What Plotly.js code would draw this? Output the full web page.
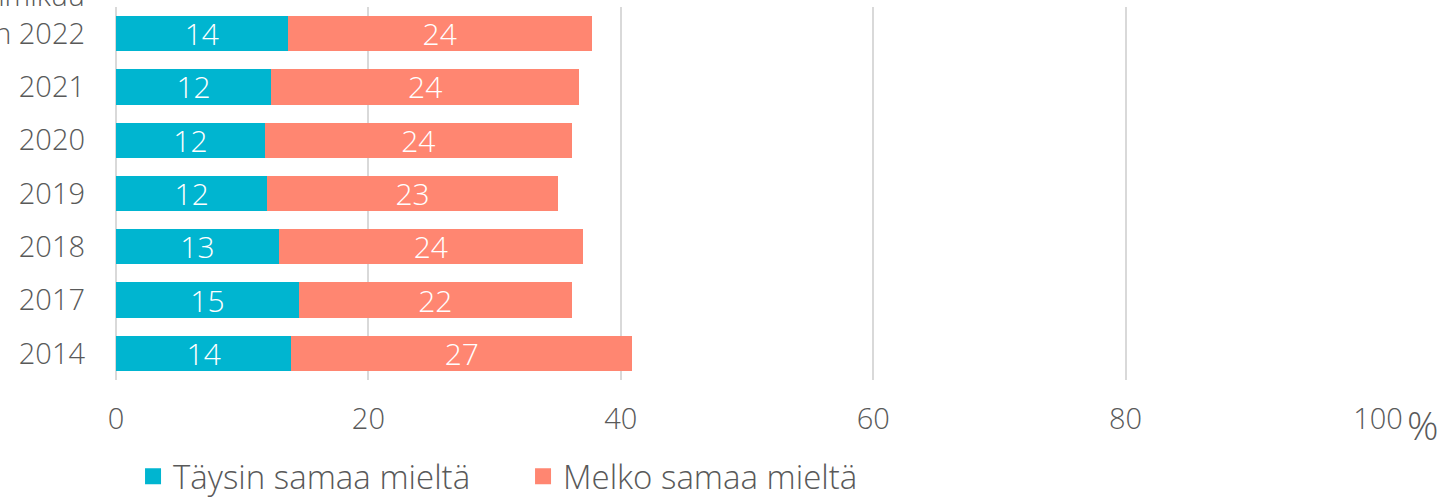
<!DOCTYPE html>
<html>
<head>
<meta charset="utf-8">
<script src="https://cdn.plot.ly/plotly-3.0.1.min.js"></script>
<style>
  html, body { margin: 0; padding: 0; background: #ffffff; }
  #chart { width: 1452px; height: 498px; }
</style>
</head>
<body>
<div id="chart"></div>
<script>
// Categories (bottom to top)
const categories = ["2014", "2017", "2018", "2019", "2020", "2021", "Joulu-tammikuu<br>Tammikuun 2022<br> "];
// Series values (%)
const taysinSamaa = [13.9, 14.5, 12.9, 12.0, 11.8, 12.3, 13.6];
const melkoSamaa = [27.0, 21.6, 24.1, 23.0, 24.3, 24.4, 24.1];
const seriesNames = ["Täysin samaa mieltä", "Melko samaa mieltä"];
const seriesColors = ["#00B5D0", "#FF8671"];
const xTickVals = [0, 20, 40, 60, 80, 100];
const xTickText = ["0", "20", "40", "60", "80", "100"];

const fontFamily = "'Open Sans', sans-serif";
const textGray = "#595959";
const fw = 300;
const fs = 29;

const barTraces = [taysinSamaa, melkoSamaa].map((vals, i) => ({
  type: "bar", orientation: "h", name: seriesNames[i], showlegend: false,
  y: categories, x: vals,
  marker: { color: seriesColors[i] },
  text: vals.map(v => Math.round(v).toString()),
  texttemplate: "%{text}",
  textposition: "inside", insidetextanchor: "middle", constraintext: "none", textangle: 0,
  textfont: { color: "#ffffff", size: 30, family: fontFamily, weight: fw },
  hoverinfo: "none"
}));
// legend entries with larger square keys
const legendTraces = seriesNames.map((n, i) => ({
  type: "scatter", mode: "markers", name: n, x: [null], y: [null],
  marker: { symbol: "square", size: 18, color: seriesColors[i] },
  hoverinfo: "none"
}));

const layout = {
  width: 1452, height: 498,
  barmode: "stack",
  bargap: 0.34,
  paper_bgcolor: "#ffffff", plot_bgcolor: "#ffffff",
  margin: { l: 116, r: 74, t: 7, b: 118, pad: 0, autoexpand: false },
  font: { family: fontFamily, color: textGray, size: fs, weight: fw },
  showlegend: true,
  legend: {
    orientation: "h", x: 0.0135, xanchor: "left",
    yref: "container", y: 0.1, yanchor: "top",
    font: { size: 33, color: textGray, family: fontFamily, weight: fw },
    traceorder: "normal", itemwidth: 30, tracegroupgap: 0, entrywidth: 345
  },
  xaxis: {
    range: [0, 100], tickvals: xTickVals, ticktext: xTickText,
    showgrid: true, gridcolor: "#d9d9d9", gridwidth: 2,
    zeroline: true, zerolinecolor: "#d9d9d9", zerolinewidth: 2,
    showline: false, ticks: "", ticklabelstandoff: 19, automargin: false,
    tickfont: { size: fs, color: textGray, family: fontFamily, weight: fw },
    fixedrange: true
  },
  yaxis: {
    type: "category", categoryorder: "array", categoryarray: categories,
    showgrid: false, zeroline: false, showline: false, ticks: "",
    ticklabelstandoff: 30, automargin: false,
    tickfont: { size: fs, color: textGray, family: fontFamily, weight: fw },
    fixedrange: true
  },
  annotations: [
    { text: "%", xref: "paper", yref: "paper", x: 1.0, y: 0, xanchor: "left", yanchor: "top",
      xshift: 27, yshift: -16, showarrow: false,
      font: { size: 39, color: textGray, family: fontFamily, weight: fw } }
  ]
};

Plotly.newPlot("chart", barTraces.concat(legendTraces), layout, { staticPlot: true, displayModeBar: false });
</script>
</body>
</html>
